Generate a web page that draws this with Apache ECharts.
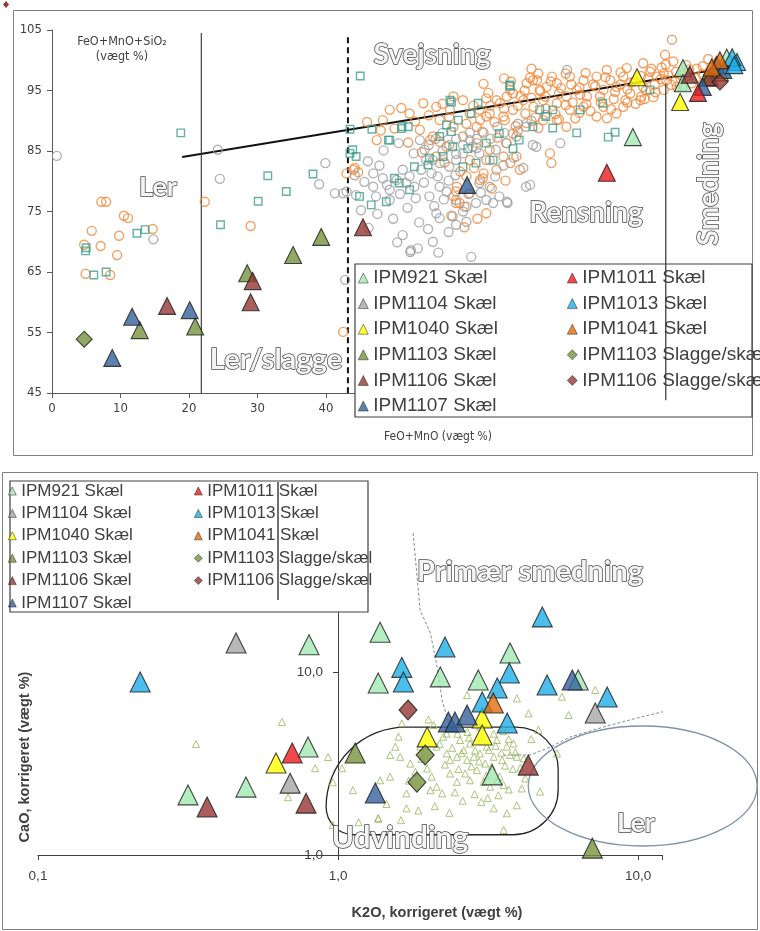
<!DOCTYPE html>
<html><head><meta charset="utf-8">
<script src="https://cdn.jsdelivr.net/npm/echarts@6/dist/echarts.min.js"></script>
<style>html,body{margin:0;padding:0;background:#fff}#c{width:760px;height:931px}</style>
</head><body><div id="c"></div>
<script>
const NARROW = "'Liberation Sans Narrow','DejaVu Sans Condensed','Liberation Sans',sans-serif";
const ARIAL = "'Liberation Sans',Arial,sans-serif";

// ---------- legend / sample definitions ----------
const legendCol1 = ['IPM921 Skæl','IPM1104 Skæl','IPM1040 Skæl','IPM1103 Skæl','IPM1106 Skæl','IPM1107 Skæl'];
const legendCol2 = ['IPM1011 Skæl','IPM1013 Skæl','IPM1041 Skæl','IPM1103 Slagge/skæl','IPM1106 Slagge/skæl'];
const sampleNames = legendCol1.concat(legendCol2);
const sampleColors = ['#a3e9b3','#a6a6a6','#ffff00','#77933c','#953735','#35609a','#ee1c1c','#1eaee6','#e36c0a','#77933c','#953735'];
const sampleSymbols = ['triangle','triangle','triangle','triangle','triangle','triangle','triangle','triangle','triangle','diamond','diamond'];

// ---------- top chart: FeO+MnO (x) vs FeO+MnO+SiO2 (y) ----------
const xTicksTop = {min:0, max:100, interval:10};
const yTicksTop = {min:45, max:105, interval:10};

const topOrange = [
[7.2,76.6],[7.9,76.6],[10.5,74.3],[11.1,73.9],[5.8,71.8],[9.8,71.0],[14.7,72.1],[4.7,69.5],[7.1,69.3],[9.5,67.8],[8.5,64.5],[4.9,64.7],[22.3,76.6],[29.0,72.6],[42.5,55.1],
[44.2,82.2],[44.7,81.5],[43,81.3],[44,81.9],[62.9,80.5],[59,78.3],[59,76.4],[60.2,75.8],[63.4,74.7],[56.6,86.5],[55.6,87.4],[62.4,91.8],[63.4,90.7],[67.3,94.5],[70.2,96.7],[71.2,95.1],
[90.5,103.4],[89.5,100.9],[90.7,99.8],[63.4,93.7],[64.9,93.4],[66.4,94.0],[69.3,96.2],[70.8,96.7],[72.2,95.6],[73.7,96.2],[75.6,97.3],[77.6,96.7],[79.5,97.3],[81.5,96.7],[83.4,97.3],[87.3,98.1],[88.3,97.3],[89.3,97.8],
[80.5,95.1],[82.4,95.6],[84.4,94.5],[86.3,95.6],[87.8,93.9],[89.3,95.1],[76.6,95.1],[78.1,94.0],[75.1,94.0],[73.7,92.9],[71.7,93.4],[70.3,92.3],[68.8,93.4],[67.3,91.8],[65.9,90.7],[63.9,91.2],[62.5,90.1],[61.0,91.2],[60.0,93.4],[58.6,94.0],
[69.3,89.6],[71.7,90.1],[73.7,90.1],[75.6,91.8],[77.6,92.3],[80.5,92.3],[83.4,92.3],[79.5,90.7],[82.4,91.2],[85.9,93.4],[75.1,89.0],[67.3,87.9],[66.4,86.3],[67.8,84.1],[68.3,81.9],[72.7,84.6],[72.9,83.0],
[58.1,91.8],[56.1,92.3],[54.2,92.9],[56.6,90.1],[58.6,89.0],[60.0,87.4],[62.0,86.3],[63.9,85.2],[65.9,84.1],[66.9,83.0],[64.9,81.9],[63.0,81.3],[63.4,83.5],[61.0,83.5],[60.5,80.8],[59.1,79.1],[58.6,77.5],[59.5,76.4],[61.0,78.0],[62.5,80.2],
[56.1,84.1],[57.6,85.7],[55.2,86.8],[53.7,88.5],[52.2,91.2],[49.3,91.8],[48.3,90.1],[47.4,86.8],[89.7,96.7],[91.2,95.6],[86.3,99.5],[83.9,98.7],
[92,97.5],[93,98.5],[94,97],[95,99],[96,98],[97,99.5],[91,96.5],[90,97.5],
[76,93],[78,92.8],[80,94],[82,93.6],[84,95.2],[86,94],[88,96],[85,96.5],[79,96],[77,95.5],[74,94.5],[72,94],[70,93.8],[68,92.5],[66,92],[64,92.5],[62,89],[75,97.8],[81,98.4],[87,97],[89,98.8],[83,96],[73,97.3],[71,97.8],[69,95],[67,96.5],
[60.5,89.5],[61.5,92.5],[62.8,88.2],[63.7,94.6],[64.6,89.8],[65.4,92.9],[66.1,90.1],[66.9,95.1],[67.7,89.1],[68.4,94.1],[69.1,91.2],[69.8,97.1],[70.6,90.6],[71.3,94.9],[72.1,92.0],[72.8,96.5],[73.5,91.1],[74.3,95.4],[75.0,92.6],[75.8,96.0],
[76.4,90.4],[77.1,94.3],[77.9,97.9],[78.6,91.6],[79.3,95.7],[80.1,93.1],[80.8,97.2],[81.6,91.9],[82.2,94.8],[83.0,98.0],[83.7,93.4],[84.5,96.3],[85.2,92.8],[86.0,97.4],[86.7,95.0],[87.5,98.6],[88.1,94.7],[88.9,96.9],[89.6,99.3],[90.4,95.9],
[91.1,98.1],[91.8,96.9],[92.6,99.2],[93.4,96.2],[94.1,98.6],[95.0,97.7],[95.8,100.2],[96.6,97.1],[65,87.2],[68,88.3],[71,88.8],[74,90.2],[77,91.3],[81,90.4],[84,93.0],[86.5,93.6],[63,96.1],[66,97],[70,98.6],
[58,90.6],[57,92.8],[55,90.9],[53,89.9],[51,92.1],[50,88.7],[48,88.4],[46,89.8],[52,86.4],[54,84.8],[57.3,83.1],[59.6,81.6],[61.6,82.2],[64.2,78.8],[66.2,80.1],[60.2,72.4],[62.1,73.8],[58.3,74.3]
];
const topGray = [
[0.7,84.2],[14.8,70.4],[24.2,85.2],[24.5,80.4],[39.9,83.0],[39.0,79.5],[41.3,78.0],[42.5,78.0],[52.3,68.3],[42.8,63.7],
[44.2,81.0],[46.9,81.3],[48.3,80.5],[51.2,81.9],[52.2,80.8],[53.7,86.8],[54.4,85.2],[54.6,83.5],[55.6,83.5],[56.6,83.0],[53.9,81.9],[55.4,81.3],[56.3,80.8],[51.7,79.7],[52.9,79.1],[55.1,77.5],[56.6,79.1],[57.6,78.3],
[59.0,76.9],[60.5,75.8],[61.9,76.4],[63.4,76.9],[64.4,76.4],[65.3,77.5],[66.5,76.4],[58.5,74.2],[60.0,75.0],[56.1,74.7],[56.6,73.9],[51.2,71.1],[52.4,68.6],[53.4,68.9],[55.6,70.0],[59.0,72.8],[60.5,73.3],[61.2,67.5],
[69.2,79.1],[70.7,85.7],[63.9,79.1],[62.4,79.7],[58.0,82.4],[59.0,83.5],[60.0,84.6],[61.4,85.7],[61.0,86.8],[62.4,84.6],[63.9,83.5],[64.8,85.2],[66.3,86.3],[67.8,87.4],[69.2,89.0],
[43.0,78.3],[44.4,77.7],[46.9,79.1],[47.3,77.5],[49.3,76.9],[49.3,78.6],[50.3,80.2],
[75.2,98.4],[70.2,86.0],[74.2,86.3],[69.8,79.4],[66.4,76.6],
[55,86],[56,87],[57,85],[58,86],[59,87],[60,86],[61,88],[62,87],[63,88],[64,87],[65,89],[57,88],[59,84.5],[62,85.5],[66,88],[68,89.5],[70,90],[72,91],
[45.6,79.9],[47.8,82.6],[48.9,79.4],[50.8,77.9],[51.9,75.6],[53.1,77.2],[54.3,79.8],[55.8,75.9],[57.2,77.0],[57.9,80.1],[58.9,81.0],[60.8,77.9],[62.6,78.1],[53.6,73.2],[54.9,72.1],
[57.9,71.6],[56.4,68.2],[49.8,73.8],[47.5,74.6],[45.1,75.2],[46.2,72.3],[50.4,69.9],[64.7,80.8],[65.9,82.6],[67.4,83.9],[68.8,82.2],[52.8,84.6],[50.6,86.3],[48.4,85.1],[46.1,83.3]
];
const topTeal = [
[18.8,88],[4.9,68.5],[5.0,69],[6.1,64.5],[7.9,65],[12.4,71.4],[13.6,72],[24.6,72.8],[45,97.4],[31.5,80.9],[30.1,76.7],[34.2,78.3],[38.1,81.2],[46.7,88.6],[43.5,88.6],
[58.3,93.1],[66.8,95.9],[62.2,92.9],[61.2,91.2],[49.3,86.8],[51.0,88.7],[52.0,89.0],[57.6,89.3],[56.6,87.4],[55.1,83.8],[54.9,82.7],[52.9,82.4],[50.0,80.5],[50.7,79.7],[52.2,78.6],[48.8,76.6],[46.6,76.1],[44.9,77.5],
[43.9,85.2],[43.5,84.6],[44.4,84.1],[60.0,82.4],[61.9,83.0],[64.4,83.5],[67.3,85.4],[68.2,86.8],[70.2,89.0],[72.1,90.7],[71.2,91.8],[65.3,87.9],[63.4,86.3],[60.7,85.4],[58.5,85.7],[57.1,84.1],[58.3,88.2],[59.3,90.1],
[66.9,95.7],[58.1,93.4],[51.1,89],[49.1,86.8],[76.6,88],[81.2,87.3],[82.2,88.1],[77.1,91.8],[73.1,91.8],[73.1,88.8],[80.4,92.9],[87.3,95.1],[92.1,95.6]
];
// samples (top)
const top921 = [[84.8,87.3],[92.1,98.7],[92.1,96.2],[98.5,100.4]];
const top1104 = [[96.8,98.4]];
const top1040 = [[85.4,97.2],[91.7,93.1],[97.5,98.0]];
const top1103 = [[12.8,55.4],[20.9,56.0],[28.5,64.8],[35.2,67.8],[39.3,70.8],[95.6,97.1]];
const top1106 = [[16.8,59.4],[29.0,60.0],[29.3,63.5],[45.4,72.4],[93.1,97.6],[96,97.2]];
const top1107 = [[8.8,50.8],[11.7,57.6],[20.1,58.7],[60.6,79.4],[95,95.6],[97,99.2],[98,98.4]];
const top1011 = [[81,81.4],[94.3,94.6]];
const top1013 = [[100,99.7],[99.3,100.5],[99.6,99.2]];
const top1041 = [[97.5,100],[96.3,98.8]];
const top1103s = [[4.7,53.9]];
const top1106s = [[97.5,96.4]];
const topSamples = [top921,top1104,top1040,top1103,top1106,top1107,top1011,top1013,top1041,top1103s,top1106s];
// guide lines (top)
const trendLine = [[19,84],[100,99]];
const lerLine = [[21.8,104.5],[21.8,45]];
const svejsLine = [[43.2,103.8],[43.2,45]];
const smedLine = [[89.6,96.2],[89.6,43.8]];

// ---------- bottom chart: K2O (x, log) vs CaO (y, log) ----------
const xLogBottom = {min:0.1, max:12};
const yLogBottom = {min:1, max:100};
const bot921 = [[0.80,14.1],[0.316,2.13],[0.493,2.35],[0.794,3.89],[1.38,16.5],[1.36,8.7],[2.19,9.4],[3.74,12.7],[2.93,9.04],[6.31,9.04],[3.26,2.74]];
const bot1104 = [[0.457,14.4],[0.692,2.47],[7.19,5.97]];
const bot1040 = [[0.621,3.18],[3.02,5.61],[1.98,4.42],[3.02,4.53]];
const bot1103 = [[1.14,3.61],[7.03,1.09]];
const bot1106 = [[0.366,1.83],[0.782,1.92],[4.3,3.1]];
const bot1107 = [[1.33,2.18],[6.03,9.04],[2.33,5.33],[2.45,5.33],[2.69,5.82]];
const bot1011 = [[0.703,3.61]];
const bot1013 = [[0.219,8.81],[2.27,13.7],[1.63,10.6],[1.65,8.81],[4.79,20.0],[3.72,9.88],[3.39,8.18],[4.97,8.49],[7.88,7.3],[3.02,6.86],[3.66,5.26]];
const bot1041 = [[3.29,6.77]];
const bot1103s = [[1.95,3.52],[1.83,2.5]];
const bot1106s = [[1.71,6.2]];
const botSamples = [bot921,bot1104,bot1040,bot1103,bot1106,bot1107,bot1011,bot1013,bot1041,bot1103s,bot1106s];
const botSmall = [
[0.65,5.33],[0.336,4.04],[0.926,3.43],[0.838,2.98],[0.681,2.07],[1.03,2.98],[1.12,2.26],[0.96,2.5],[1.17,1.51],[1.36,1.59],[0.96,1.46],
[1.63,5.24],[2.69,7.48],[3.94,7.18],[4.31,5.94],[5.57,7.33],[7.19,7.97],[5.86,5.82],[2.49,5.02],[2.24,4.43],[2.55,4.25],[2.75,4.07],[3.38,4.25],[3.65,3.91],[3.84,4.07],
[1.49,3.52],[1.61,3.44],[1.74,3.16],[2.13,3.91],[2.3,3.59],[2.36,3.3],[2.49,3.44],[2.62,3.74],[2.69,3.3],[2.83,3.44],[2.97,3.59],[3.09,3.16],[3.13,3.91],[3.3,3.44],[3.52,3.3],[3.74,3.52],[3.94,3.44],[4.15,3.37],
[2.65,2.79],[2.75,2.56],[2.9,2.91],[3.05,2.51],[3.21,2.36],[3.38,2.56],[3.56,2.41],[2.49,2.51],[2.36,2.79],[2.13,2.36],[2.22,2.17],[2.03,2.26],[1.69,2.17],[1.49,2.68],[1.38,2.56],
[1.69,1.8],[3.3,1.8],[3.65,1.69],[3.94,1.87],[3.56,1.37],[4.09,2.31],[4.71,2.22],[4.65,4.82],[5.36,3.59],[1.36,1.58],[1.88,3.91],[1.98,2.97],[1.81,2.85],[2.3,4.61],[2.97,5.02],[2.08,5.13],[1.59,4.43],
[1.55,3.9],[1.72,2.55],[1.9,3.35],[2.05,2.68],[2.18,4.05],[2.27,3.12],[2.4,3.85],[2.52,2.95],[2.58,3.6],[2.73,4.38],[2.78,3.05],[2.86,3.72],[2.95,3.25],[3.0,4.2],[3.12,2.72],[3.18,3.75],[3.25,3.05],[3.35,3.95],
[3.45,2.68],[3.5,3.62],[3.6,3.08],[3.7,4.3],[3.82,2.95],[3.9,3.65],[4.05,3.0],[4.2,2.62],[2.45,2.2],[2.6,1.98],[2.85,2.15],[3.0,1.95],[3.15,2.05],[3.42,2.12],[3.7,2.28],[2.1,1.85],[2.35,1.7],[1.85,1.75],
[1.62,1.55],[2.7,4.7],[2.5,4.6],[3.3,4.6],[3.55,4.75],[2.0,5.5],[4.4,4.3],[1.45,1.9]
];
const primaerLine = [[1.778,57.5],[1.876,21.8],[2.03,16.3],[2.14,10.6],[2.22,7.03],[2.33,5.33]];
const lerBoundLine = [[3.55,3.52],[4.37,3.52],[5.09,3.89],[5.93,4.41],[7.64,5.0],[9.93,5.61],[12.8,6.2],[16.5,6.77],[23.1,7.78]];
// field outlines: [xMin, xMax, yMin, yMax]
const udvindingField = [[0.912,5.41,1.29,5.0]];
const lerField = [[4.3,24.9,1.12,5.07]];

// ---------- build ----------
const series = [];
function openSeries(name, data, xi, symbol, size, color, bw) {
  series.push({type:'scatter', name, data, xAxisIndex:xi, yAxisIndex:xi, symbol, symbolSize:size, silent:true,
    itemStyle:{color:'rgba(255,255,255,0)', borderColor:color, borderWidth:bw}, z:2});
}
openSeries('top-orange', topOrange, 0, 'circle', 9, '#ef8a3c', 1.4);
openSeries('top-gray', topGray, 0, 'circle', 9, '#a0a0a0', 1.4);
openSeries('top-teal', topTeal, 0, 'rect', 7.5, '#3f9e8c', 1.4);
function lineSeries(name, data, xi, style, z) {
  series.push({type:'line', name, data, xAxisIndex:xi, yAxisIndex:xi, symbol:'none', silent:true, clip:false, z:z||2,
    lineStyle:style, animation:false});
}
lineSeries('trend', trendLine, 0, {color:'#111', width:2});
lineSeries('ler', lerLine, 0, {color:'#404040', width:1.2});
lineSeries('svejs', svejsLine, 0, {color:'#111', width:2, type:[6,4]});
lineSeries('smed', smedLine, 0, {color:'#404040', width:1.3}, 6);
sampleNames.forEach((n,i)=>{
  series.push({type:'scatter', name:n, data:topSamples[i], xAxisIndex:0, yAxisIndex:0, symbol:sampleSymbols[i],
    symbolSize: sampleSymbols[i]==='diamond'?16:17, silent:true,
    itemStyle:{color:sampleColors[i], borderColor:'#1a1a1a', borderWidth:1.1}, z:2});
});
// bottom
openSeries('bot-small', botSmall, 1, 'triangle', 7, '#97b55a', 1);
function fieldRender(kind, color) {
  return function(params, api) {
    const p1 = api.coord([api.value(0), api.value(3)]);
    const p2 = api.coord([api.value(1), api.value(2)]);
    const x = p1[0], y = p1[1], w = p2[0]-p1[0], h = p2[1]-p1[1];
    if (kind === 'ellipse') {
      return {type:'ellipse', shape:{cx:x+w/2, cy:y+h/2, rx:w/2, ry:h/2}, style:{fill:'none', stroke:color, lineWidth:1.3}};
    }
    return {type:'rect', shape:{x, y, width:w, height:h, r:[80,42,45,28]}, style:{fill:'none', stroke:color, lineWidth:1.3}};
  };
}
series.push({type:'custom', name:'udvinding', data:udvindingField, xAxisIndex:1, yAxisIndex:1, silent:true, clip:false,
  encode:{x:[0,1], y:[2,3]}, renderItem:fieldRender('rect','#262626'), z:2});
series.push({type:'custom', name:'lerfield', data:lerField, xAxisIndex:1, yAxisIndex:1, silent:true, clip:false,
  encode:{x:[0,1], y:[2,3]}, renderItem:fieldRender('ellipse','#7f93ab'), z:2});
lineSeries('primaer', primaerLine, 1, {color:'#7f8c9e', width:1, type:[3,2]});
lineSeries('lerbound', lerBoundLine, 1, {color:'#7f8c9e', width:1, type:[3,2]});
sampleNames.forEach((n,i)=>{
  series.push({type:'scatter', name:n, data:botSamples[i], xAxisIndex:1, yAxisIndex:1, symbol:sampleSymbols[i],
    symbolSize: sampleSymbols[i]==='diamond'?[18,20]:20, silent:true,
    itemStyle:{color:sampleColors[i], borderColor:'#1a1a1a', borderWidth:1.1}, z:3});
});

function mkLegend(names, left, top, fs, lh, gap, iw) {
  return {orient:'vertical', left, top, data:names, itemWidth:iw, itemHeight:iw, itemGap:gap, padding:0,
    selectedMode:false, z:6, itemStyle:{borderWidth:0.6},
    textStyle:{fontSize:fs, lineHeight:lh, color:'#404040', fontFamily:ARIAL}};
}
const logFmt = v => {
  const l = Math.log10(v);
  if (Math.abs(l - Math.round(l)) > 1e-6) return '';
  return (Math.round(v*10)/10).toFixed(1).replace('.', ',');
};
function wa(text, x, y, size, rot) {
  return {type:'text', x, y, rotation:rot||0, z:8, silent:true,
    style:{text, font:'bold '+size+'px Lato, "Open Sans", sans-serif', fill:'#f4f4f4', stroke:'#4a4a4a', lineWidth:1.5,
      align:'center', verticalAlign:'middle', textAlign:'center', textVerticalAlign:'middle'}};
}
function txt(text, x, y, font, rot) {
  return {type:'text', x, y, rotation:rot||0, z:8, silent:true,
    style:{text, font, fill:'#404040', align:'center', verticalAlign:'middle', textAlign:'center', textVerticalAlign:'middle'}};
}

const chart = echarts.init(document.getElementById('c'), null, {renderer:'canvas'});
chart.setOption({
  animation:false,
  backgroundColor:'#fff',
  grid:[
    {left:52, right:23, top:30, bottom:538},
    {left:38, right:98, top:489, bottom:76}
  ],
  xAxis:[
    {type:'value', gridIndex:0, min:xTicksTop.min, max:xTicksTop.max, interval:xTicksTop.interval,
     axisLine:{lineStyle:{color:'#595959'}}, axisTick:{length:5, lineStyle:{color:'#595959'}}, splitLine:{show:false},
     axisLabel:{color:'#404040', fontSize:13, fontFamily:NARROW, margin:9}},
    {type:'log', logBase:10, gridIndex:1, min:xLogBottom.min, max:xLogBottom.max,
     axisLine:{lineStyle:{color:'#404040'}}, axisTick:{length:5, lineStyle:{color:'#404040'}}, splitLine:{show:false}, minorTick:{show:false},
     axisLabel:{color:'#404040', fontSize:13.5, fontFamily:ARIAL, margin:14, formatter:logFmt}}
  ],
  yAxis:[
    {type:'value', gridIndex:0, min:yTicksTop.min, max:yTicksTop.max, interval:yTicksTop.interval,
     axisLine:{show:true, lineStyle:{color:'#595959'}}, axisTick:{show:true, length:5, lineStyle:{color:'#595959'}}, splitLine:{show:false},
     axisLabel:{color:'#404040', fontSize:13, fontFamily:NARROW, margin:10}},
    {type:'log', logBase:10, gridIndex:1, min:yLogBottom.min, max:yLogBottom.max, offset:-300,
     axisLine:{show:true, lineStyle:{color:'#404040'}}, axisTick:{show:true, length:5, lineStyle:{color:'#404040'}}, splitLine:{show:false}, minorTick:{show:false},
     axisLabel:{color:'#404040', fontSize:13.5, fontFamily:ARIAL, margin:15, formatter:logFmt}}
  ],
  legend:[
    mkLegend(legendCol1, 358, 268, 19, 20, 5.6, 10),
    mkLegend(legendCol2, 567, 268, 19, 20, 5.6, 10),
    mkLegend(legendCol1, 8, 482, 17, 18, 4.4, 8),
    mkLegend(legendCol2, 194, 482, 17, 18, 4.4, 8)
  ],
  graphic:[
    {type:'rect', z:0, silent:true, shape:{x:13.5, y:10.5, width:739, height:445}, style:{fill:'none', stroke:'#808080', lineWidth:1}},
    {type:'rect', z:0, silent:true, shape:{x:2.5, y:472.5, width:755, height:457}, style:{fill:'none', stroke:'#808080', lineWidth:1}},
    {type:'rect', z:3, silent:true, shape:{x:355, y:264, width:397, height:153}, style:{fill:'#fff', stroke:'#404040', lineWidth:1.2}},
    {type:'rect', z:3, silent:true, shape:{x:10, y:481, width:358, height:131}, style:{fill:'#fff', stroke:'#404040', lineWidth:1.2}},
    {type:'line', z:7, silent:true, shape:{x1:278, y1:482, x2:278, y2:600}, style:{stroke:'#222', lineWidth:1.3}},
    {type:'polygon', z:7, silent:true, shape:{points:[[6,1],[9,4.5],[6,8],[3,4.5]]}, style:{fill:'#953735'}},
    txt('FeO+MnO+SiO₂', 122, 42, '12.5px '+NARROW),
    txt('(vægt %)', 122, 57, '12.5px '+NARROW),
    txt('FeO+MnO (vægt %)', 438, 437, '12px '+NARROW),
    txt('K2O, korrigeret (vægt %)', 437, 913, 'bold 14.5px '+ARIAL),
    txt('CaO, korrigeret (vægt %)', 25, 757, 'bold 14.5px '+ARIAL, Math.PI/2),
    wa('Svejsning', 432, 55, 28),
    wa('Ler', 158, 187, 27),
    wa('Rensning', 586, 213, 28),
    wa('Smedning', 709, 184, 28, Math.PI/2),
    wa('Ler/slagge', 276, 360, 29),
    wa('Primær smedning', 530, 572, 29),
    wa('Udvinding', 400, 838, 30),
    wa('Ler', 636, 823, 27)
  ],
  series
});
</script></body></html>
